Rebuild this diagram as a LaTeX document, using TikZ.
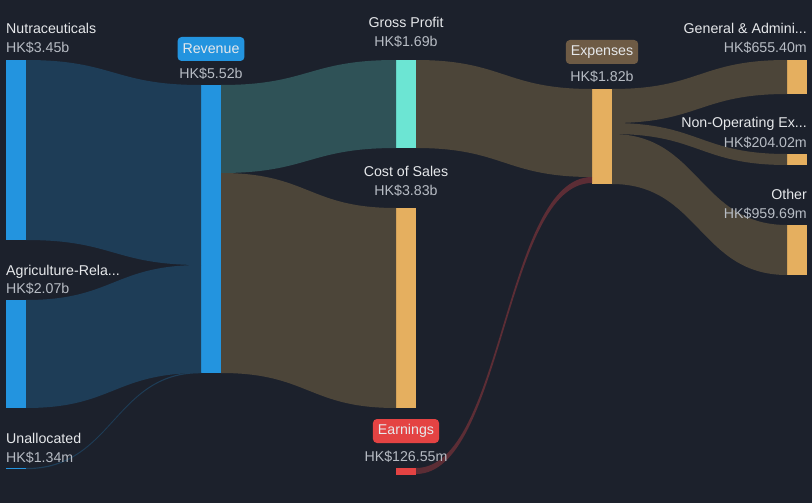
\documentclass[tikz,border=0pt]{standalone}
\usepackage{fontspec}
\setmainfont{Liberation Sans}
\usetikzlibrary{calc}

\definecolor{bg}{HTML}{1C212C}
\definecolor{barblue}{HTML}{2394DF}
\definecolor{baraqua}{HTML}{6CE5D3}
\definecolor{barorange}{HTML}{E5AF5F}
\definecolor{barred}{HTML}{E44343}
\definecolor{flowblue}{HTML}{1E3D57}
\definecolor{flowteal}{HTML}{2F5257}
\definecolor{flowbrown}{HTML}{4C4539}
\definecolor{flowred}{HTML}{5C2D35}
\definecolor{tagbrown}{HTML}{6E5B45}
\definecolor{namecol}{HTML}{E6E8EB}
\definecolor{valcol}{HTML}{B7BCC4}

% band from node #2 (offset #3) to node #4 (offset #5), width #6
\newcommand{\band}[6]{%
  \fill[#1] ($(#2.north east)+(0,#3)$) .. controls +(87.5,0) and +(-87.5,0) .. ($(#4.north west)+(0,#5)$)
    -- ++(0,#6) .. controls +(-87.5,0) and +(87.5,0) .. ($(#2.north east)+(0,#3+#6)$) -- cycle;}

\begin{document}
\begin{tikzpicture}[x=1pt,y=-1pt,font=\fontsize{14.2}{17}\selectfont]

      \fill[bg] (0,0) rectangle (812,503);
      \useasboundingbox (0,0) rectangle (812,503);

      \begin{scope}[every node/.style={rectangle,inner sep=0pt,outer sep=0pt,minimum width=20pt,anchor=north west}]
        \node[fill=barblue,minimum height=180pt]   (nut) at (6,60)    {};
        \node[fill=barblue,minimum height=108pt]   (agr) at (6,300)   {};
        \node[fill=barblue,minimum height=1.2pt]   (una) at (6,468)   {};
        \node[fill=barblue,minimum height=288pt]   (rev) at (201,85)  {};
        \node[fill=baraqua,minimum height=88pt]    (gp)  at (396,60)  {};
        \node[fill=barorange,minimum height=200pt] (cos) at (396,208) {};
        \node[fill=barred,minimum height=7pt]      (ear) at (396,468) {};
        \node[fill=barorange,minimum height=95pt]  (exp) at (592,89)  {};
        \node[fill=barorange,minimum height=34pt]  (gen) at (787,60)  {};
        \node[fill=barorange,minimum height=11pt]  (non) at (787,154) {};
        \node[fill=barorange,minimum height=50pt]  (oth) at (787,225) {};
      \end{scope}

      \band{flowblue}{nut}{0}{rev}{0}{180}
      \band{flowblue}{agr}{0}{rev}{180}{108}
      \band{flowblue}{una}{0}{rev}{287}{1.2}
      \band{flowteal}{rev}{0}{gp}{0}{88}
      \band{flowbrown}{rev}{88}{cos}{0}{200}
      \band{flowbrown}{gp}{0}{exp}{0}{88}
      \band{flowred}{ear}{0}{exp}{88}{6}
      \band{flowbrown}{exp}{0}{gen}{0}{34}
      \band{flowbrown}{exp}{34}{non}{0}{11}
      \band{flowbrown}{exp}{45}{oth}{0}{50}

      \begin{scope}[every node/.style={text=namecol,inner sep=0pt}]
        \node[anchor=base west] (nutname) at (6,34)    {Nutraceuticals};
        \node[anchor=base west] (agrname) at (6,275)   {Agriculture-Rela...};
        \node[anchor=base west] (unaname) at (6,443)   {Unallocated};
        \node[anchor=base]      (gpname)  at (406,28)  {Gross Profit};
        \node[anchor=base]      (cosname) at (406,176) {Cost of Sales};
        \node[anchor=base east] (genname) at (807,34)  {General \& Admini...};
        \node[anchor=base east] (nonname) at (807,128) {Non-Operating Ex...};
        \node[anchor=base east] (othname) at (807,199) {Other};
      \end{scope}

      \begin{scope}[every node/.style={text=valcol,inner sep=0pt}]
        \node[anchor=base west] (nutval) at (6,53)    {HK\$3.45b};
        \node[anchor=base west] (agrval) at (6,293)   {HK\$2.07b};
        \node[anchor=base west] (unaval) at (6,462)   {HK\$1.34m};
        \node[anchor=base]      (revval) at (211,78)  {HK\$5.52b};
        \node[anchor=base]      (gpval)  at (406,47)  {HK\$1.69b};
        \node[anchor=base]      (cosval) at (406,195) {HK\$3.83b};
        \node[anchor=base]      (earval) at (406,461) {HK\$126.55m};
        \node[anchor=base]      (expval) at (602,82)  {HK\$1.82b};
        \node[anchor=base east] (genval) at (807,53)  {HK\$655.40m};
        \node[anchor=base east] (nonval) at (807,147) {HK\$204.02m};
        \node[anchor=base east] (othval) at (807,218) {HK\$959.69m};
      \end{scope}

      \begin{scope}[every node/.style={text=namecol,rounded corners=4pt,inner xsep=5pt,minimum height=24pt}]
        \node[fill=barblue]  (revtag) at (211,49)  {Revenue};
        \node[fill=tagbrown] (exptag) at (602,52)  {Expenses};
        \node[fill=barred]   (eartag) at (406,431) {Earnings};
      \end{scope}

    \end{tikzpicture}
\end{document}
